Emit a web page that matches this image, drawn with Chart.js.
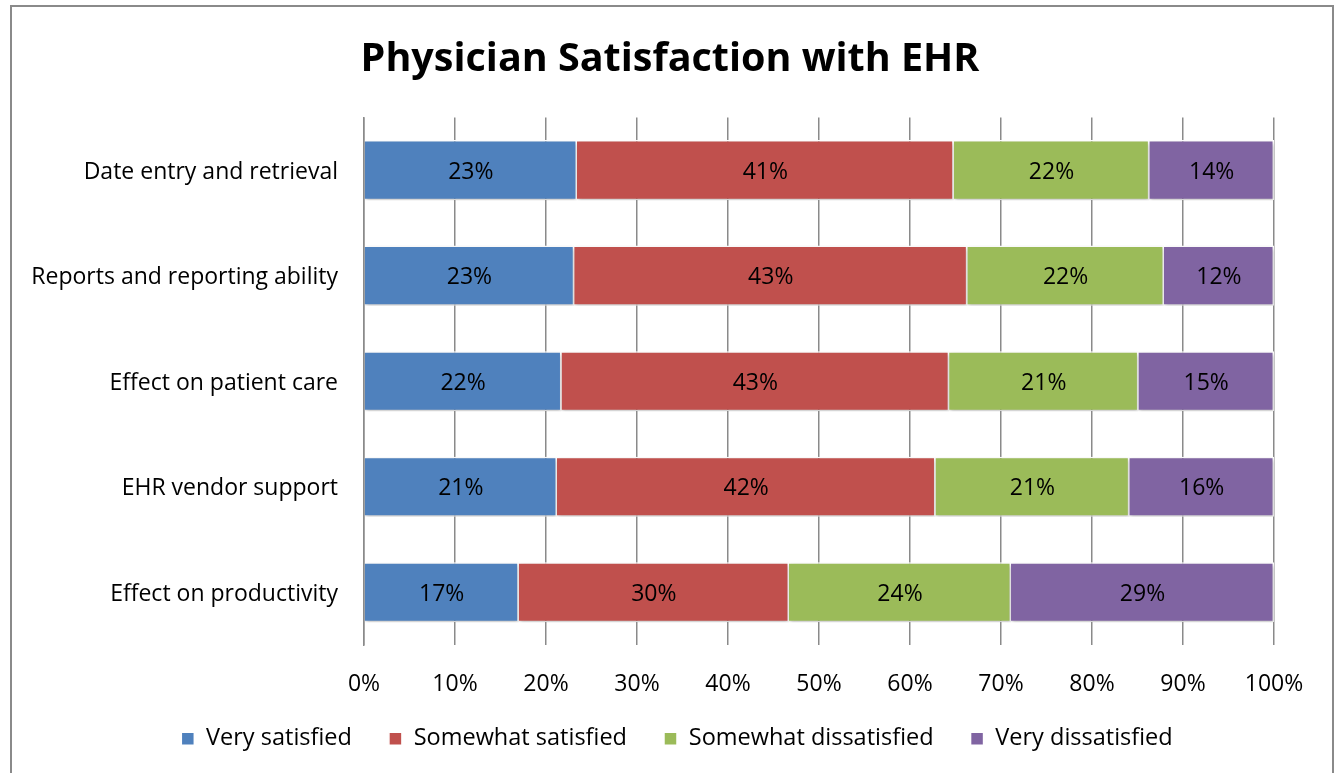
<!DOCTYPE html>
<html lang="en">
<head>
  <meta charset="UTF-8">
  <title>Physician Satisfaction with EHR</title>
  <script src="https://cdn.jsdelivr.net/npm/chart.js"></script>
  <style>
    * { box-sizing: border-box; margin: 0; padding: 0; }
    body { background: #fff; width: 1340px; height: 773px; overflow: hidden; position: relative; }
    .frame { position: absolute; left: 10px; top: 5px; width: 1324px; height: 800px; border: 2px solid #8a8a8a; }
    canvas { position: absolute; left: 0; top: 0; }
  </style>
</head>
<body>
  <div class="frame"></div>
  <canvas id="chart" width="1340" height="773"></canvas>
  <script>
    // values (percent of respondents)
    const categories = ['Date entry and retrieval', 'Reports and reporting ability', 'Effect on patient care', 'EHR vendor support', 'Effect on productivity'];
    const seriesNames = ['Very satisfied', 'Somewhat satisfied', 'Somewhat dissatisfied', 'Very dissatisfied'];
    const verySatisfied = [23.4, 23.1, 21.7, 21.2, 17.0];
    const somewhatSatisfied = [41.4, 43.2, 42.6, 41.6, 29.7];
    const somewhatDissatisfied = [21.5, 21.6, 20.8, 21.3, 24.4];
    const veryDissatisfied = [13.7, 12.1, 14.9, 15.9, 28.9];
    const xTicks = [0, 10, 20, 30, 40, 50, 60, 70, 80, 90, 100];

    const colors = ['#4F81BD', '#C0504D', '#9BBB59', '#8064A2'];
    const font = '"Open Sans", Lato, sans-serif';
    Chart.defaults.font.family = font;
    Chart.defaults.color = '#000';

    // soft drop shadow under the bars, like the office chart
    const shadowPlugin = {
      id: 'barShadow',
      beforeDatasetsDraw(chart) {
        const c = chart.ctx;
        c.save();
        c.shadowColor = 'rgba(0,0,0,0.22)';
        c.shadowBlur = 4;
        c.shadowOffsetX = 1;
        c.shadowOffsetY = 2;
      },
      afterDatasetsDraw(chart) {
        chart.ctx.restore();
      }
    };

    // percent labels in the middle of each segment
    const labelPlugin = {
      id: 'segLabels',
      afterDatasetsDraw(chart) {
        const c = chart.ctx;
        c.save();
        c.font = '23px ' + font;
        c.fillStyle = '#000';
        c.textAlign = 'center';
        c.textBaseline = 'middle';
        chart.data.datasets.forEach((ds, i) => {
          chart.getDatasetMeta(i).data.forEach((bar, j) => {
            const x = (bar.x + bar.base) / 2;
            c.fillText(Math.round(ds.data[j]) + '%', x, bar.y + 2);
          });
        });
        c.restore();
      }
    };

    // wide gaps between legend items, but keep the box short and nudge it into place
    const legendFitPlugin = {
      id: 'legendFit',
      beforeLayout(chart) {
        const lg = chart.legend;
        if (lg && !lg._patched) {
          const orig = lg.fit;
          lg.fit = function () { orig.call(this); this.height = 68; };
          lg._patched = true;
        }
      },
      afterLayout(chart) {
        const lg = chart.legend;
        lg.top -= 15;
        lg.bottom -= 15;
        lg.left += 7;
        lg.right += 7;
      }
    };

    new Chart(document.getElementById('chart'), {
      type: 'bar',
      data: {
        labels: categories,
        datasets: [verySatisfied, somewhatSatisfied, somewhatDissatisfied, veryDissatisfied].map((d, i) => ({
          label: seriesNames[i],
          data: d,
          backgroundColor: colors[i],
          borderColor: '#fff',
          borderWidth: 1.5,
          barPercentage: 0.57,
          categoryPercentage: 1.0
        }))
      },
      options: {
        indexAxis: 'y',
        responsive: false,
        animation: false,
        layout: { padding: { left: 66, right: 66, top: 0, bottom: 0 } },
        plugins: {
          title: {
            display: true,
            text: 'Physician Satisfaction with EHR',
            color: '#000',
            font: { size: 39.5, weight: 'bold' },
            padding: { top: 36, bottom: 34 }
          },
          legend: {
            position: 'bottom',
            labels: {
              boxWidth: 13,
              boxHeight: 13,
              padding: 37,
              color: '#000',
              font: { size: 23.5 }
            }
          },
          tooltip: { enabled: false }
        },
        scales: {
          x: {
            stacked: true,
            min: 0,
            max: 100,
            afterBuildTicks(scale) { scale.ticks = xTicks.map(v => ({ value: v })); },
            afterFit(scale) { scale.height = 60; },
            ticks: { padding: 26, font: { size: 23 }, color: '#000', callback: v => v + '%' },
            grid: { color: '#8a8a8a', lineWidth: 1.5, drawTicks: false },
            border: { display: false }
          },
          y: {
            stacked: true,
            afterFit(scale) {
              scale.width = 298;
              scale._computeLabelArea = () => null; // let long labels run past the box
            },
            ticks: { padding: 26, labelOffset: 2, font: { size: 23 }, color: '#000' },
            grid: { display: false, drawTicks: false },
            border: { display: true, color: '#8a8a8a', width: 1.5 }
          }
        }
      },
      plugins: [shadowPlugin, labelPlugin, legendFitPlugin]
    });
  </script>
</body>
</html>
